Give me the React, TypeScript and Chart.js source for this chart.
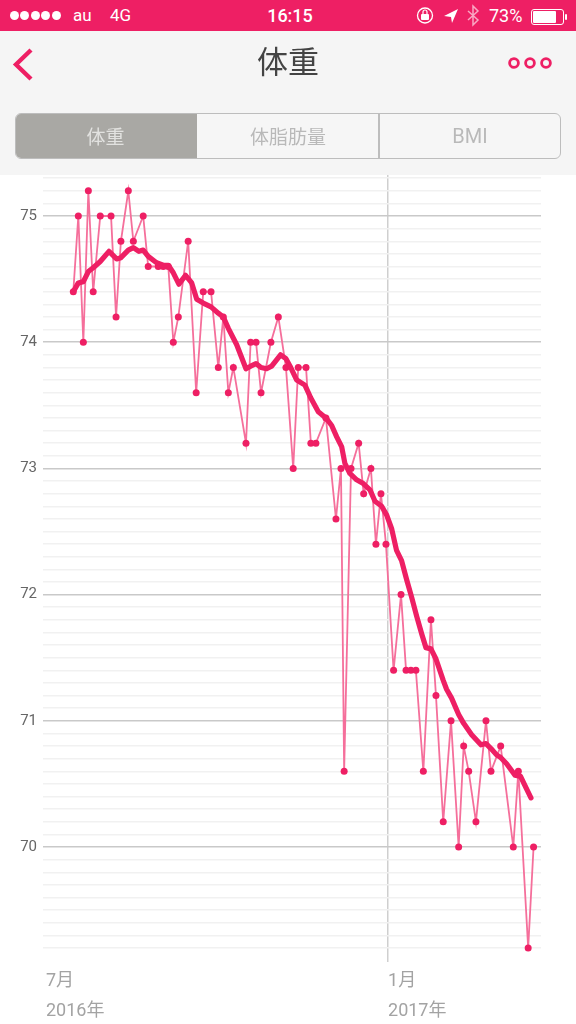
import React, { useEffect, useRef } from "react";
import { Chart, registerables } from "chart.js";

Chart.register(...registerables);

const PINK = "#ee1f64";
const CJK = '"Noto Sans CJK JP", sans-serif';
const LATIN = 'Roboto, "Noto Sans CJK JP", sans-serif';

// Days after 1 July 2016
const dailyDays = [
  14.7, 17.4, 20.1, 22.8, 25.4, 29.2, 35.0, 37.7, 40.3, 44.3, 47.0, 52.3, 55.0, 60.4, 63.1, 65.8,
  68.5, 71.2, 76.5, 80.8, 84.6, 88.8, 92.7, 95.4, 98.1, 100.8, 107.6, 110.1, 113.0, 115.7, 121.0,
  125.0, 129.1, 133.0, 135.7, 139.9, 142.5, 145.2, 150.6, 156.0, 158.7, 160.4, 164.1, 168.2, 170.9,
  174.8, 177.5, 180.2, 182.9, 187.0, 191.0, 193.7, 196.3, 199.0, 203.0, 207.1, 209.8, 213.7, 217.9,
  222.0, 224.7, 227.4, 231.3, 236.7, 239.4, 244.6, 251.4, 254.1, 259.4, 262.3,
];
const dailyWeight = [
  74.4, 75.0, 74.0, 75.2, 74.4, 75.0, 75.0, 74.2, 74.8, 75.2, 74.8, 75.0, 74.6, 74.6, 74.6, 74.6,
  74.0, 74.2, 74.8, 73.6, 74.4, 74.4, 73.8, 74.2, 73.6, 73.8, 73.2, 74.0, 74.0, 73.6, 74.0,
  74.2, 73.8, 73.0, 73.8, 73.8, 73.2, 73.2, 73.4, 72.6, 73.0, 70.6, 73.0, 73.2, 72.8,
  73.0, 72.4, 72.8, 72.4, 71.4, 72.0, 71.4, 71.4, 71.4, 70.6, 71.8, 71.2, 70.2, 71.0,
  70.0, 70.8, 70.6, 70.2, 71.0, 70.6, 70.8, 70.0, 70.6, 69.2, 70.0,
];
const trendDays = [
  14.7, 17.4, 20.1, 22.8, 25.4, 29.2, 33.9, 38.0, 40.3, 44.3, 47.0, 50.0, 52.3, 55.0, 59.5, 63.1,
  65.8, 68.5, 71.5, 75.1, 78.4, 81.1, 84.6, 88.8, 92.7, 95.4, 98.1, 102.6, 107.6, 110.1, 113.0,
  115.7, 118.7, 121.4, 126.2, 129.1, 131.3, 134.9, 139.3, 142.4, 146.5, 150.6, 153.7, 156.4, 159.1,
  160.8, 163.5, 167.1, 170.7, 174.3, 177.0, 180.6, 183.3, 186.0, 188.6, 191.3, 194.0, 196.7, 199.4,
  202.1, 204.4, 207.1, 209.8, 213.7, 215.5, 218.2, 222.0, 224.7, 229.0, 234.0, 236.7, 239.4, 242.4,
  244.6, 247.8, 252.3, 255.3, 258.2, 260.9,
];
const trendWeight = [
  74.4, 74.47, 74.48, 74.56, 74.59, 74.64, 74.72, 74.66, 74.67, 74.73, 74.75, 74.72, 74.73, 74.68,
  74.63, 74.61, 74.61, 74.55, 74.46, 74.53, 74.47, 74.34, 74.31, 74.28, 74.23, 74.2, 74.11, 73.98,
  73.79, 73.81, 73.83, 73.8, 73.79, 73.81, 73.9, 73.87, 73.81, 73.7, 73.66, 73.56, 73.45, 73.4,
  73.34, 73.25, 73.17, 73.04, 72.96, 72.91, 72.88, 72.83, 72.74, 72.7, 72.63, 72.52, 72.35, 72.27,
  72.12, 71.98, 71.83, 71.69, 71.58, 71.57, 71.49, 71.32, 71.25, 71.18, 71.05, 70.98, 70.89, 70.81,
  70.82, 70.78, 70.73, 70.71, 70.66, 70.57, 70.56, 70.47, 70.39,
];
const monthTickDays = [0, 184];
const monthTickLabels = [
  ["7月", "2016年"],
  ["1月", "2017年"],
];
const yTickTenths = Array.from({ length: 62 }, (_, i) => 692 + i);
const segments = ["体重", "体脂肪量", "BMI"];

const abs = (style: React.CSSProperties): React.CSSProperties => ({ position: "absolute", ...style });

function App() {
  const ref = useRef<HTMLCanvasElement>(null);
  useEffect(() => {
    document.body.style.margin = "0";
    const chart = new Chart(ref.current!, {
      type: "line",
      data: {
        datasets: [
          {
            label: "trend",
            data: trendDays.map((x, i) => ({ x, y: trendWeight[i] })),
            borderColor: PINK,
            borderWidth: 5.2,
            pointRadius: 0,
            borderJoinStyle: "round",
            borderCapStyle: "round",
            order: 1,
          },
          {
            label: "weight",
            data: dailyDays.map((x, i) => ({ x, y: dailyWeight[i] })),
            borderColor: "#f56f9b",
            borderWidth: 1.8,
            pointRadius: 3.5,
            pointBorderWidth: 0,
            pointBackgroundColor: PINK,
            order: 2,
          },
        ],
      },
      options: {
        responsive: false,
        animation: false,
        layout: { padding: { top: 175, right: 35, left: 0, bottom: 0 } },
        plugins: { legend: { display: false }, tooltip: { enabled: false } },
        scales: {
          x: {
            type: "linear",
            min: -1.6,
            max: 266.3,
            afterBuildTicks: (s: any) => {
              s.ticks = monthTickDays.map((value) => ({ value }));
            },
            afterFit: (s: any) => {
              s.height = 62;
            },
            grid: {
              drawTicks: false,
              lineWidth: 1.5,
              color: (c: any) => (c.tick && c.tick.value === 184 ? "#cfcfcf" : "rgba(0,0,0,0)"),
            },
            border: { display: false },
            ticks: {
              autoSkip: false,
              maxRotation: 0,
              align: "start",
              padding: 4,
              color: "#a3a3a3",
              font: { family: LATIN, size: 18, lineHeight: "30px" },
              callback: (v: any) => monthTickLabels[monthTickDays.indexOf(v)] ?? "",
            },
          },
          y: {
            type: "linear",
            min: 69.089,
            max: 75.325,
            afterBuildTicks: (s: any) => {
              s.ticks = yTickTenths.map((t) => ({ value: t / 10 }));
            },
            afterFit: (s: any) => {
              s.width = 43;
            },
            grid: {
              drawTicks: false,
              lineWidth: 1.5,
              color: (c: any) =>
                Number.isInteger(Math.round((c.tick?.value ?? 0) * 10) / 10) ? "#c9c9c9" : "#f1f1f1",
            },
            border: { display: false },
            ticks: {
              autoSkip: false,
              padding: 6,
              color: "#666666",
              font: { family: LATIN, size: 15 },
              callback: (v: any) => {
                const r = Math.round(v * 10) / 10;
                return Number.isInteger(r) ? String(r) : "";
              },
            },
          },
        },
      },
    } as any);
    return () => chart.destroy();
  }, []);

  return (
    <div style={abs({ left: 0, top: 0, width: 576, height: 1024, overflow: "hidden", background: "#fff" })}>
      <div style={abs({ left: 0, top: 0, width: 576, height: 175, background: "#f5f5f5" })} />
      <canvas ref={ref} width={576} height={1024} style={abs({ left: 0, top: 0 })} />
      {/* status bar */}
      <div style={abs({ left: 0, top: 0, width: 576, height: 31, background: PINK, color: "#fff", fontFamily: LATIN })}>
        {[0, 1, 2, 3, 4].map((i) => (
          <div key={i} style={abs({ left: 10 + i * 10.4, top: 11, width: 9, height: 9, borderRadius: "50%", background: "#fff" })} />
        ))}
        <div style={abs({ left: 73, top: 5, fontSize: 17, lineHeight: "21px" })}>au</div>
        <div style={abs({ left: 110, top: 5, fontSize: 17, lineHeight: "21px" })}>4G</div>
        <div style={abs({ left: 240, width: 100, textAlign: "center", top: 5, fontSize: 18, fontWeight: 500, lineHeight: "21px" })}>16:15</div>
        <div style={abs({ left: 489, top: 5, fontSize: 18, lineHeight: "21px" })}>73%</div>
        <svg width="576" height="31" style={abs({ left: 0, top: 0 })}>
          <circle cx="425" cy="15.5" r="7.5" fill="none" stroke="#fff" strokeWidth="1.3" />
          <rect x="421" y="14" width="8" height="6" rx="1" fill="#fff" />
          <path d="M423 14v-2a2 2 0 0 1 4 0v2" fill="none" stroke="#fff" strokeWidth="1.2" />
          <path d="M444 16 L458 9 L452 23 L451 17 Z" fill="#fff" />
          <path d="M468 11 L478 20 L473 25 V6 L478 11 L468 20" fill="none" stroke="#f9a8c3" strokeWidth="1.5" />
          <rect x="531.5" y="9.5" width="32" height="15" rx="2.5" fill="none" stroke="#fff" strokeWidth="1" />
          <rect x="533" y="11" width="23" height="12" rx="1" fill="#fff" />
          <rect x="565" y="14" width="2" height="6" rx="1" fill="#fff" />
        </svg>
      </div>
      {/* navigation */}
      <svg width="576" height="110" style={abs({ left: 0, top: 31 })}>
        <path d="M31 19 L16 33.5 L31 48" fill="none" stroke={PINK} strokeWidth="4.4" />
        {[514, 530, 546].map((cx) => (
          <circle key={cx} cx={cx} cy={32} r={4.4} fill="none" stroke={PINK} strokeWidth="2.8" />
        ))}
      </svg>
      <div style={abs({ left: 188, width: 200, textAlign: "center", top: 37, fontSize: 31, lineHeight: "46px", color: "#444", fontFamily: CJK })}>
        {"体重"}
      </div>
      {/* segmented control */}
      <div style={abs({ left: 15, top: 113, width: 546, height: 46, boxSizing: "border-box", border: "1.5px solid #bdbdbd", borderRadius: 6, background: "#f6f6f6", overflow: "hidden" })}>
        <div style={abs({ left: 0, top: 0, width: 181, height: 44, background: "#a9a8a4" })} />
        <div style={abs({ left: 362, top: 0, width: 2, height: 44, background: "#bdbdbd" })} />
      </div>
      {segments.map((s, i) => (
        <div key={s} style={abs({ left: [15, 197, 379][i], width: [181, 182, 182][i], top: 113, height: 46, lineHeight: "46px", textAlign: "center", fontSize: i === 2 ? 20 : 19, fontFamily: i === 2 ? LATIN : CJK, color: i === 0 ? "#e2e2e0" : "#b9b9b9" })}>
          {s}
        </div>
      ))}
    </div>
  );
}

export default App;
